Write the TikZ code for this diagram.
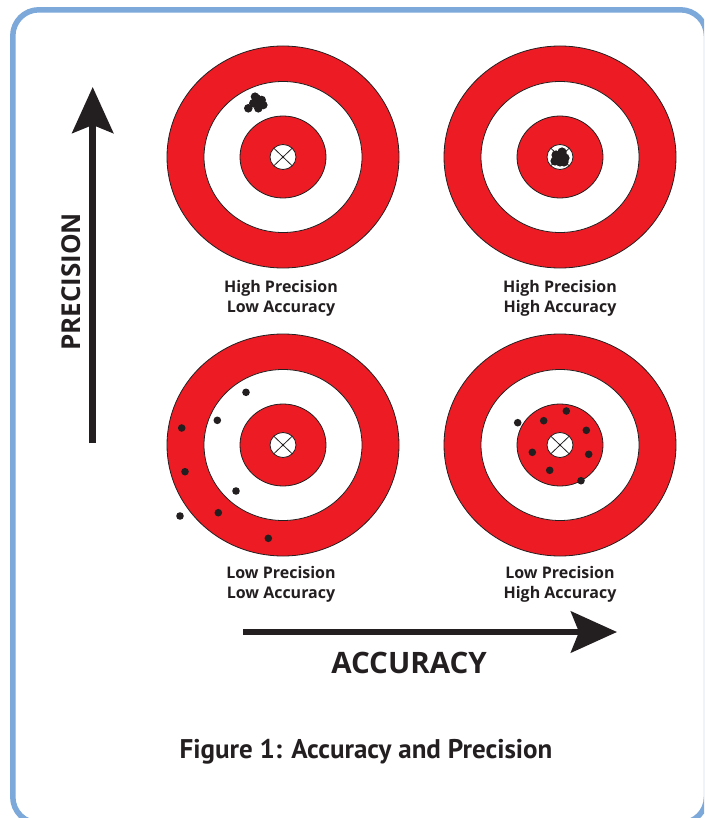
\documentclass[tikz,border=0pt]{standalone}
\usepackage{fontspec}
\setmainfont{Open Sans}
\newfontfamily\capfont{PT Sans}
\usetikzlibrary{arrows.meta}
\definecolor{tred}{HTML}{ED1C24}
\definecolor{frameblue}{HTML}{7DA8DA}
\definecolor{ink}{HTML}{231F20}
\tikzset{
  ringred/.style={fill=tred, draw=ink, line width=0.8},
  ringwhite/.style={fill=white, draw=ink, line width=0.8},
  target/.pic={
    \path[ringred]   (0,0) ellipse [x radius=116, y radius=111];
    \path[ringwhite] (0,0) ellipse [x radius=79, y radius=75.5];
    \path[ringred]   (0,0) ellipse [x radius=43, y radius=41];
    \path[ringwhite] (0,0) ellipse [x radius=13, y radius=12.5];
    \draw[ink, line width=0.8] (-9.2,-8.8) -- (9.2,8.8) (-9.2,8.8) -- (9.2,-8.8);
  },
  hit/.style={fill=ink},
  lbl/.style={font=\bfseries\fontsize{16}{20}\selectfont, align=center, text=ink, inner sep=0},
  axis/.style={draw=ink, line width=6.5, -{Stealth[length=46, width=41, inset=8]}},
}
\begin{document}
\begin{tikzpicture}[x=1pt,y=-1pt]
\useasboundingbox (0,0) rectangle (704,818);
\clip (0,0) rectangle (704,818);
\draw[frameblue, line width=5.5, rounded corners=26] (12.8,9.8) rectangle (706.5,823);

% targets
\pic at (283,157) {target};
\pic at (560,157) {target};
\pic at (283,445) {target};
\pic at (560,445) {target};

% top-left cluster
\foreach \p in {(248.3,108.3),(253.3,103.3),(256.7,98.3),(261.7,100),(263.3,105),(258.3,108.3),(255,96.7),(257,104)}
  \fill[hit] \p circle[radius=4.3];
% top-right cluster
\foreach \dx/\dy in {-4/-2,2/-5,5/1,0/5,-5/4,4/5,-1/0,3/-1}
  \fill[hit] (560+\dx,157+\dy) circle[radius=4.6];
% bottom-left scatter
\foreach \p in {(246,392.3),(217.3,420.3),(181.7,428),(185,471.7),(236,491),(180,516),(218.3,512.7),(268.3,538.3)}
  \fill[hit] \p circle[radius=3.8];
% bottom-right scatter
\foreach \p in {(517.7,422.7),(543.7,420.7),(566.3,411),(586.3,430.3),(588.7,454.3),(532.3,452.3),(549.7,470.3),(581,480.7)}
  \fill[hit] \p circle[radius=3.8];

% labels
\node[lbl] (l1) at (281,298) {High Precision\\Low Accuracy};
\node[lbl] (l2) at (560,298) {High Precision\\High Accuracy};
\node[lbl] (l3) at (281,584) {Low Precision\\Low Accuracy};
\node[lbl] (l4) at (560,584) {Low Precision\\High Accuracy};

% axes
\coordinate (pstart) at (92.7,443);
\coordinate (pend) at (92.7,87);
\draw[axis] (pstart) -- (pend);
\node[font=\bfseries\fontsize{26}{30}\selectfont, text=ink, inner sep=0, rotate=90] (prec) at (71.5,282) {PRECISION};

\coordinate (astart) at (243,632);
\coordinate (aend) at (617,632);
\draw[axis] (astart) -- (aend);
\node[font=\bfseries\fontsize{29.5}{32}\selectfont, text=ink, inner sep=0] (acc) at (409,663) {ACCURACY};

\node[font=\capfont\bfseries\fontsize{27}{30}\selectfont, text=ink, inner sep=0] (cap) at (366,752) {Figure 1: Accuracy and Precision};
\end{tikzpicture}
\end{document}
